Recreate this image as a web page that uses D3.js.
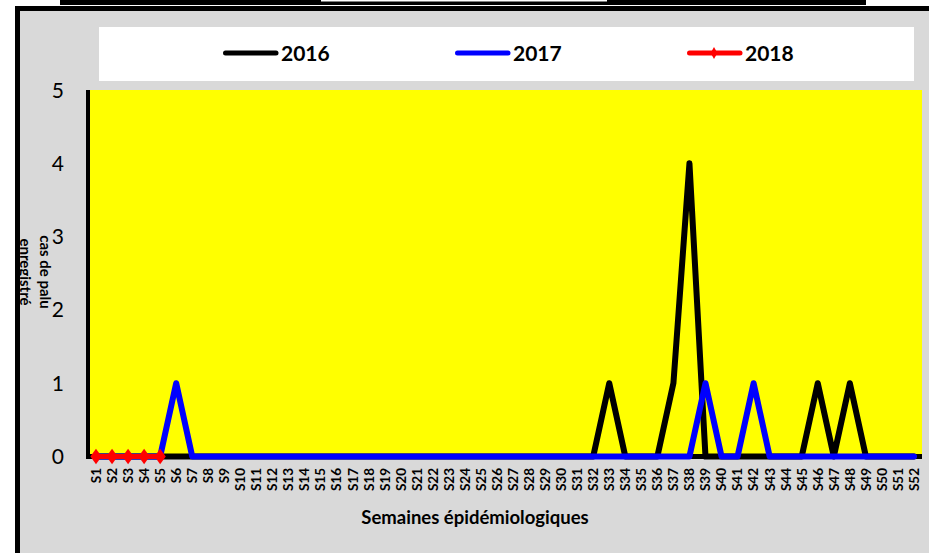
<!DOCTYPE html>
<html><head><meta charset="utf-8">
<script src="https://cdn.jsdelivr.net/npm/d3@7"></script>
<style>html,body{margin:0;padding:0;background:#fff;}svg{display:block;}</style>
</head><body>
<svg id="c" width="929" height="553"></svg>
<script>
const weeks = d3.range(1, 53).map(i => "S" + i);
const series2016 = [0,0,0,0,0,0,0,0,0,0,0,0,0,0,0,0,0,0,0,0,0,0,0,0,0,0,0,0,0,0,0,0,1,0,0,0,1,4,0,0,0,0,0,0,0,1,0,1,0,0,0,0];
const series2017 = [0,0,0,0,0,1,0,0,0,0,0,0,0,0,0,0,0,0,0,0,0,0,0,0,0,0,0,0,0,0,0,0,0,0,0,0,0,0,1,0,0,1,0,0,0,0,0,0,0,0,0,0];
const series2018 = [0,0,0,0,0];
const yTicks = [0,1,2,3,4,5];
const seriesNames = ["2016","2017","2018"];
const seriesColors = ["#000000","#0000ff","#ff0000"];
const xTitle = "Semaines épidémiologiques";
const yTitleLines = ["cas de palu","enregistré"];

const svg = d3.select("#c");
const FONT = "Lato, 'Open Sans', sans-serif";

// outer area
svg.append("rect").attr("x",20).attr("y",11).attr("width",909).attr("height",542).attr("fill","#d9d9d9");

// top bar
svg.append("rect").attr("x",60).attr("y",0).attr("width",806).attr("height",5).attr("fill","#000");
svg.append("rect").attr("x",321).attr("y",0).attr("width",286).attr("height",1.5).attr("fill","#fff");

const x = d3.scalePoint().domain(weeks).range([96, 914]);
const y = d3.scaleLinear().domain([0,5]).range([456.5, 90]);

// plot background
svg.append("rect").attr("x",90).attr("y",90).attr("width",832).attr("height",y(0)-90).attr("fill","#ffff00");

// legend box
svg.append("rect").attr("x",99).attr("y",27).attr("width",815).attr("height",54).attr("fill","#fff");

// y tick labels
svg.append("g").selectAll("text").data(yTicks).join("text")
  .attr("x",64).attr("y",d=>y(d)).attr("dy","0.36em")
  .attr("text-anchor","end").attr("font-family",FONT).attr("font-size",21).attr("fill","#000")
  .text(d=>d);

// axes lines
svg.append("line").attr("x1",88).attr("x2",88).attr("y1",90).attr("y2",459).attr("stroke","#000").attr("stroke-width",4);
svg.append("line").attr("x1",86).attr("x2",922).attr("y1",y(0)).attr("y2",y(0)).attr("stroke","#000").attr("stroke-width",5);

// x tick labels
svg.append("g").selectAll("text").data(weeks).join("text")
  .attr("transform",d=>`translate(${x(d)},468) rotate(-90)`)
  .attr("dy","0.36em").attr("text-anchor","end")
  .attr("font-family",FONT).attr("font-weight","bold").attr("font-size",13.5).attr("fill","#000")
  .text(d=>d);

// lines
const line = d3.line().x((d,i)=>x(weeks[i])).y(d=>y(d));
const allSeries = [series2016, series2017, series2018];
allSeries.forEach((s,k)=>{
  svg.append("path").attr("d",line(s)).attr("fill","none")
    .attr("stroke",seriesColors[k]).attr("stroke-width",k===2?5:6)
    .attr("stroke-linejoin","round").attr("stroke-linecap","round");
});
// 2018 markers
const diamond = d3.symbol().type(d3.symbolDiamond).size(70);
svg.append("g").selectAll("path").data(series2018).join("path")
  .attr("d",diamond).attr("transform",(d,i)=>`translate(${x(weeks[i])},${y(d)}) scale(1.25,1)`)
  .attr("fill","#ff0000");

// legend
const legX = [223, 455, 687];
seriesNames.forEach((n,k)=>{
  svg.append("line").attr("x1",legX[k]+2.5).attr("x2",legX[k]+53).attr("y1",53).attr("y2",53)
    .attr("stroke",seriesColors[k]).attr("stroke-width",5).attr("stroke-linecap","round");
  if(k===2){
    svg.append("path").attr("d",d3.symbol().type(d3.symbolDiamond).size(40)())
      .attr("transform",`translate(${legX[k]+27},53)`).attr("fill","#ff0000");
  }
  svg.append("text").attr("x",legX[k]+58).attr("y",61)
    .attr("font-family",FONT).attr("font-weight","bold").attr("font-size",21).attr("fill","#000")
    .text(n);
});

// x title
svg.append("text").attr("x",475).attr("y",524).attr("text-anchor","middle")
  .attr("font-family",FONT).attr("font-weight","bold").attr("font-size",18.5).attr("fill","#000")
  .text(xTitle);

// y title
const yt = svg.append("text").attr("font-family",FONT).attr("font-weight","bold").attr("font-size",15)
  .attr("fill","#000").attr("text-anchor","middle")
  .attr("transform","translate(40,272) rotate(90)");
yTitleLines.forEach((t,i)=>{
  yt.append("tspan").attr("x",0).attr("y",i*20).text(t);
});

// frame border
svg.append("rect").attr("x",15).attr("y",6).attr("width",914).attr("height",5).attr("fill","#000");
svg.append("rect").attr("x",15).attr("y",6).attr("width",5).attr("height",547).attr("fill","#000");
</script>
</body></html>
